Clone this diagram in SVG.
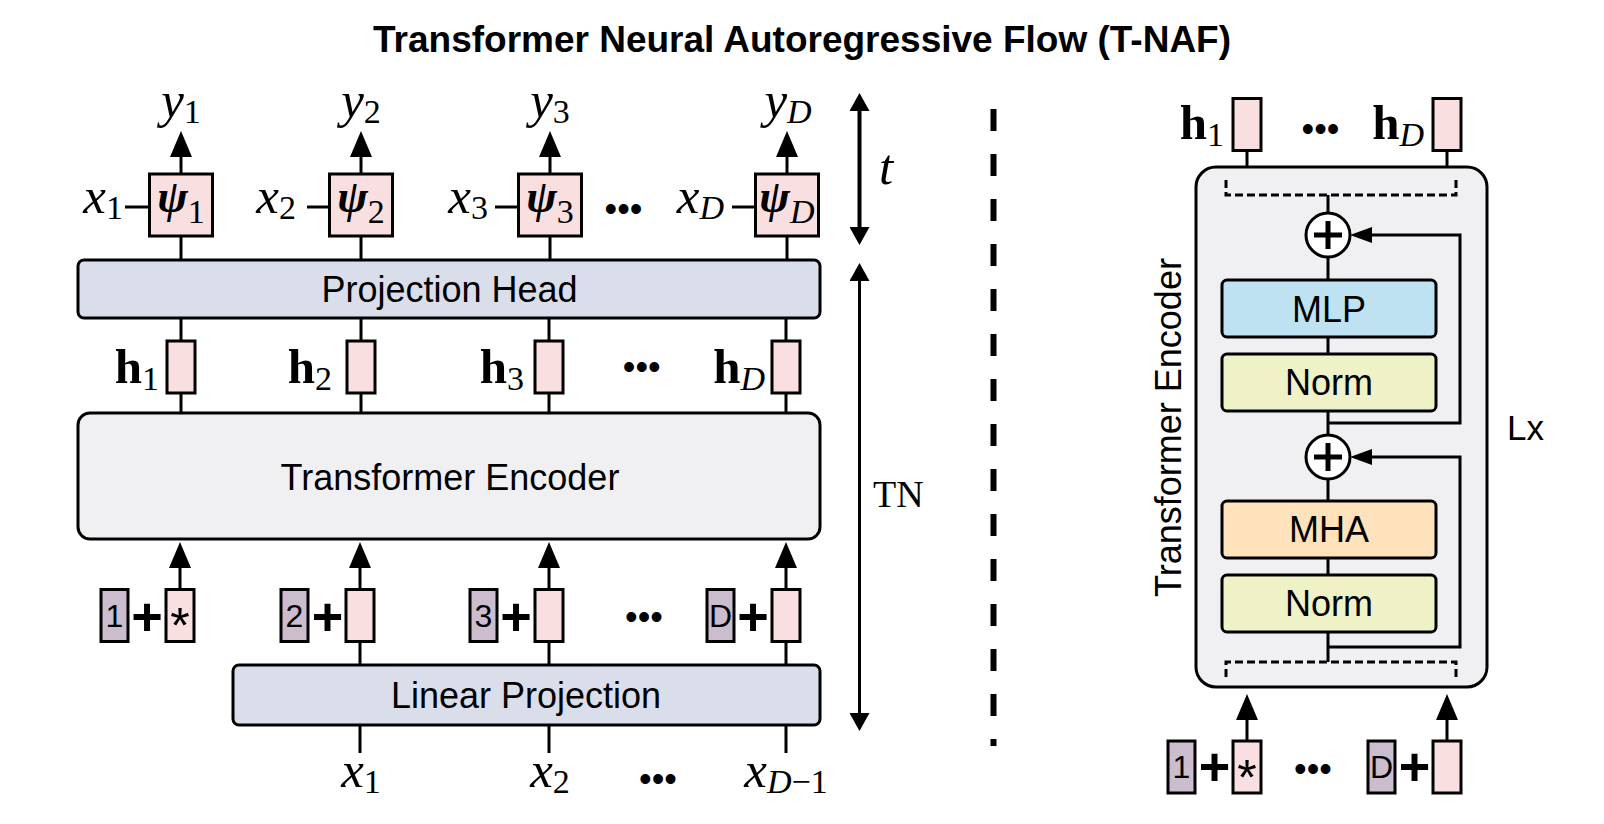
<svg xmlns="http://www.w3.org/2000/svg" width="1604" height="824" viewBox="0 0 1604 824">
<defs>
<style>
.sans{font-family:"Liberation Sans",Arial,sans-serif;fill:#000}
.title{font-family:"Liberation Sans",Arial,sans-serif;font-weight:bold;font-size:37px}
.lbl{font-family:"Liberation Sans",Arial,sans-serif;font-size:36px;text-anchor:middle}
.mi{font-family:"Liberation Serif","Times New Roman",serif;font-style:italic;font-size:51px}
.rm{font-family:"Liberation Serif","Times New Roman",serif;font-size:38px}
.hb{font-family:"Liberation Serif","Times New Roman",serif;font-weight:bold;font-size:49px}
.psi{font-family:"Liberation Serif","Times New Roman",serif;font-weight:bold;font-style:italic;font-size:46px;text-anchor:middle}
.sub{font-size:34px;font-style:normal;font-weight:normal}
.subi{font-size:34px;font-style:italic;font-weight:normal}
.dots{font-family:"Liberation Sans",Arial,sans-serif;font-size:36px;text-anchor:middle}
.plus{font-family:"Liberation Sans",Arial,sans-serif;font-weight:bold;font-size:54px;text-anchor:middle}
.num{font-family:"Liberation Sans",Arial,sans-serif;font-size:32px;text-anchor:middle}
.star{font-family:"Liberation Sans",Arial,sans-serif;font-size:50px;text-anchor:middle}
.box{stroke:#000;stroke-width:3}
.pink{fill:#f9dfe0;stroke:#000;stroke-width:3}
.pos{fill:#cbbdcd;stroke:#000;stroke-width:3}
.proj{fill:#d9deea;stroke:#000;stroke-width:3}
.enc{fill:#f0f0f3;stroke:#000;stroke-width:3}
.ln{stroke:#000;stroke-width:3;fill:none}
.thin{stroke:#000;stroke-width:3;fill:none}
.dash{stroke:#000;stroke-width:3;fill:none;stroke-dasharray:8 4}
</style>
<marker id="ah" markerUnits="userSpaceOnUse" markerWidth="26" markerHeight="22" refX="18" refY="11" orient="auto"><path d="M0,0 L26,11 L0,22 z" fill="#000"/></marker>
<marker id="ahT" markerUnits="userSpaceOnUse" markerWidth="18" markerHeight="20" refX="12" refY="10" orient="auto-start-reverse"><path d="M0,0 L18,10 L0,20 z" fill="#000"/></marker>
<marker id="ahR" markerUnits="userSpaceOnUse" markerWidth="22" markerHeight="16" refX="15" refY="8" orient="auto"><path d="M0,0 L22,8 L0,16 z" fill="#000"/></marker>
</defs>
<rect width="1604" height="824" fill="#fff"/>
<text id="title" class="title" x="373" y="52">Transformer Neural Autoregressive Flow (T-NAF)</text>

<g id="enc-detail">
  <rect class="enc" x="1196" y="167" width="291" height="520" rx="20" fill="#efeff1"/>
  <text class="sans" font-size="36" text-anchor="middle" transform="translate(1181,427.5) rotate(-90)">Transformer Encoder</text>
</g>

<g id="connectors">
  <line class="ln" x1="181" y1="174" x2="181" y2="139" marker-end="url(#ah)"/>
  <line class="ln" x1="361" y1="174" x2="361" y2="139" marker-end="url(#ah)"/>
  <line class="ln" x1="550" y1="174" x2="550" y2="139" marker-end="url(#ah)"/>
  <line class="ln" x1="787" y1="174" x2="787" y2="139" marker-end="url(#ah)"/>
  <line class="ln" x1="125" y1="207" x2="149" y2="207"/>
  <line class="ln" x1="307" y1="207" x2="330" y2="207"/>
  <line class="ln" x1="495" y1="207" x2="519" y2="207"/>
  <line class="ln" x1="732" y1="207" x2="756" y2="207"/>
  <line class="ln" x1="181" y1="236" x2="181" y2="260"/>
  <line class="ln" x1="361" y1="236" x2="361" y2="260"/>
  <line class="ln" x1="550" y1="236" x2="550" y2="260"/>
  <line class="ln" x1="787" y1="236" x2="787" y2="260"/>
  <line class="ln" x1="181" y1="318" x2="181" y2="413"/>
  <line class="ln" x1="361" y1="318" x2="361" y2="413"/>
  <line class="ln" x1="549" y1="318" x2="549" y2="413"/>
  <line class="ln" x1="786" y1="318" x2="786" y2="413"/>
  <line class="ln" x1="180" y1="589" x2="180" y2="550" marker-end="url(#ah)"/>
  <line class="ln" x1="360" y1="589" x2="360" y2="550" marker-end="url(#ah)"/>
  <line class="ln" x1="549" y1="589" x2="549" y2="550" marker-end="url(#ah)"/>
  <line class="ln" x1="786" y1="589" x2="786" y2="550" marker-end="url(#ah)"/>
  <line class="ln" x1="360" y1="665" x2="360" y2="641"/>
  <line class="ln" x1="549" y1="665" x2="549" y2="641"/>
  <line class="ln" x1="786" y1="665" x2="786" y2="641"/>
  <line class="ln" x1="360" y1="753" x2="360" y2="725"/>
  <line class="ln" x1="549" y1="753" x2="549" y2="725"/>
  <line class="ln" x1="786" y1="753" x2="786" y2="725"/>
  <line x1="859.5" y1="99" x2="859.5" y2="239" stroke="#000" stroke-width="4" marker-start="url(#ahT)" marker-end="url(#ahT)"/>
  <line x1="859.5" y1="269" x2="859.5" y2="725" stroke="#000" stroke-width="3" marker-start="url(#ahT)" marker-end="url(#ahT)"/>
  <line x1="993.5" y1="109" x2="993.5" y2="746" stroke="#000" stroke-width="6" stroke-dasharray="22 23"/>
  <line class="ln" x1="1247" y1="151" x2="1247" y2="167"/>
  <line class="ln" x1="1447" y1="151" x2="1447" y2="167"/>
  <path class="dash" d="M1226,180 V195 H1456 V180"/>
  <path class="dash" d="M1226,677 V662 H1456 V677"/>
  <line class="thin" x1="1328" y1="195" x2="1328" y2="213"/>
  <line class="thin" x1="1328" y1="257" x2="1328" y2="280"/>
  <line class="thin" x1="1328" y1="337" x2="1328" y2="354"/>
  <line class="thin" x1="1328" y1="411" x2="1328" y2="435"/>
  <line class="thin" x1="1328" y1="479" x2="1328" y2="501"/>
  <line class="thin" x1="1328" y1="558" x2="1328" y2="575"/>
  <line class="thin" x1="1328" y1="632" x2="1328" y2="662"/>
  <path class="thin" d="M1328,423 H1460 V235 H1357" marker-end="url(#ahR)"/>
  <path class="thin" d="M1328,647 H1460 V457 H1357" marker-end="url(#ahR)"/>
  <line class="ln" x1="1247" y1="741" x2="1247" y2="702" marker-end="url(#ah)"/>
  <line class="ln" x1="1447" y1="741" x2="1447" y2="702" marker-end="url(#ah)"/>
</g>

<g id="outputs">
  <text class="mi" x="181" y="117" text-anchor="middle">y<tspan class="sub" dy="6">1</tspan></text>
  <text class="mi" x="361" y="117" text-anchor="middle">y<tspan class="sub" dy="6">2</tspan></text>
  <text class="mi" x="550" y="117" text-anchor="middle">y<tspan class="sub" dy="6">3</tspan></text>
  <text class="mi" x="788" y="117" text-anchor="middle">y<tspan class="subi" dy="6">D</tspan></text>
</g>

<g id="psi1"><rect class="pink" x="149.5" y="174" width="63" height="62"/><text class="psi" x="181" y="212">ψ<tspan class="sub" dy="11">1</tspan></text><text class="mi" x="123" y="213" text-anchor="end">x<tspan class="sub" dy="6">1</tspan></text></g>
<g id="psi2"><rect class="pink" x="329.5" y="174" width="63" height="62"/><text class="psi" x="361" y="212">ψ<tspan class="sub" dy="11">2</tspan></text><text class="mi" x="296" y="213" text-anchor="end">x<tspan class="sub" dy="6">2</tspan></text></g>
<g id="psi3"><rect class="pink" x="518.5" y="174" width="63" height="62"/><text class="psi" x="550" y="212">ψ<tspan class="sub" dy="11">3</tspan></text><text class="mi" x="488" y="213" text-anchor="end">x<tspan class="sub" dy="6">3</tspan></text></g>
<text class="dots" x="623.5" y="221">•••</text>
<g id="psiD"><rect class="pink" x="755.5" y="174" width="63" height="62"/><text class="psi" x="787" y="212">ψ<tspan class="subi" dy="11">D</tspan></text><text class="mi" x="724" y="213" text-anchor="end">x<tspan class="subi" dy="6">D</tspan></text></g>

<g id="t-label"><text class="mi" x="879" y="184" font-size="54">t</text></g>
<g id="tn-label"><text class="rm" x="873" y="507">TN</text></g>

<g id="projection-head"><rect class="proj" x="78" y="260" width="742" height="58" rx="6"/><text class="lbl" x="449.5" y="302">Projection Head</text></g>

<g id="h-tokens">
  <rect class="pink" x="167" y="341" width="28" height="52"/><text class="hb" x="159" y="383" text-anchor="end">h<tspan class="sub" dy="7">1</tspan></text>
  <rect class="pink" x="347" y="341" width="28" height="52"/><text class="hb" x="332" y="383" text-anchor="end">h<tspan class="sub" dy="7">2</tspan></text>
  <rect class="pink" x="535" y="341" width="28" height="52"/><text class="hb" x="524" y="383" text-anchor="end">h<tspan class="sub" dy="7">3</tspan></text>
  <text class="dots" x="641.7" y="379">•••</text>
  <rect class="pink" x="772" y="341" width="28" height="52"/><text class="hb" x="765" y="383" text-anchor="end">h<tspan class="subi" dy="7">D</tspan></text>
</g>

<g id="transformer-encoder"><rect class="enc" x="78" y="413" width="742" height="126" rx="12"/><text class="lbl" x="450" y="490">Transformer Encoder</text></g>

<g id="inputs">
  <rect class="pos" x="101" y="589.5" width="27" height="52"/><text class="num" x="114.5" y="627">1</text>
  <text class="plus" x="147" y="635">+</text>
  <rect class="pink" x="166" y="589.5" width="28" height="52"/><text class="star" x="180" y="643">*</text>
  <rect class="pos" x="281" y="589.5" width="27" height="52"/><text class="num" x="294.5" y="627">2</text>
  <text class="plus" x="327.5" y="635">+</text>
  <rect class="pink" x="346" y="589.5" width="28" height="52"/>
  <rect class="pos" x="470" y="589.5" width="27" height="52"/><text class="num" x="483.5" y="627">3</text>
  <text class="plus" x="516" y="635">+</text>
  <rect class="pink" x="535" y="589.5" width="28" height="52"/>
  <text class="dots" x="644" y="629">•••</text>
  <rect class="pos" x="707" y="589.5" width="27" height="52"/><text class="num" x="720.5" y="627">D</text>
  <text class="plus" x="753" y="635">+</text>
  <rect class="pink" x="772" y="589.5" width="28" height="52"/>
</g>

<g id="linear-projection"><rect class="proj" x="233" y="665" width="587" height="60" rx="6"/><text class="lbl" x="526" y="708">Linear Projection</text></g>

<g id="x-inputs">
  <text class="mi" x="361" y="787" text-anchor="middle">x<tspan class="sub" dy="6">1</tspan></text>
  <text class="mi" x="550" y="787" text-anchor="middle">x<tspan class="sub" dy="6">2</tspan></text>
  <text class="dots" x="658" y="791">•••</text>
  <text class="mi" x="786" y="787" text-anchor="middle">x<tspan class="subi" dy="6">D</tspan><tspan class="sub">−1</tspan></text>
</g>

<g id="h-out">
  <text class="hb" x="1224" y="139" text-anchor="end">h<tspan class="sub" dy="7">1</tspan></text>
  <rect class="pink" x="1233" y="98.5" width="28" height="52"/>
  <text class="dots" x="1320.5" y="141">•••</text>
  <text class="hb" x="1424" y="139" text-anchor="end">h<tspan class="subi" dy="7">D</tspan></text>
  <rect class="pink" x="1433" y="98.5" width="28" height="52"/>
</g>
<g id="add1"><circle cx="1328" cy="235" r="22" fill="#fff" stroke="#000" stroke-width="3"/><path d="M1314,235 H1342 M1328,221 V249" stroke="#000" stroke-width="5"/></g>
<g id="mlp"><rect x="1222" y="280" width="214" height="57" rx="5" fill="#bfe2f2" class="box"/><text class="lbl" x="1329" y="322" font-size="35">MLP</text></g>
<g id="norm1"><rect x="1222" y="354" width="214" height="57" rx="5" fill="#eef2c6" class="box"/><text class="lbl" x="1329" y="395" font-size="35">Norm</text></g>
<g id="add2"><circle cx="1328" cy="457" r="22" fill="#fff" stroke="#000" stroke-width="3"/><path d="M1314,457 H1342 M1328,443 V471" stroke="#000" stroke-width="5"/></g>
<g id="mha"><rect x="1222" y="501" width="214" height="57" rx="5" fill="#fde2bc" class="box"/><text class="lbl" x="1329" y="542" font-size="35">MHA</text></g>
<g id="norm2"><rect x="1222" y="575" width="214" height="57" rx="5" fill="#eef2c6" class="box"/><text class="lbl" x="1329" y="616" font-size="35">Norm</text></g>
<g id="lx"><text class="sans" x="1507" y="440" font-size="35">Lx</text></g>
<g id="inputs-right">
  <rect class="pos" x="1168" y="741" width="27" height="52"/><text class="num" x="1181.5" y="778">1</text>
  <text class="plus" x="1214.5" y="785">+</text>
  <rect class="pink" x="1233" y="741" width="28" height="52"/><text class="star" x="1247" y="795">*</text>
  <text class="dots" x="1313" y="781">•••</text>
  <rect class="pos" x="1368" y="741" width="27" height="52"/><text class="num" x="1381.5" y="778">D</text>
  <text class="plus" x="1414.5" y="785">+</text>
  <rect class="pink" x="1433" y="741" width="28" height="52"/>
</g>
</svg>
